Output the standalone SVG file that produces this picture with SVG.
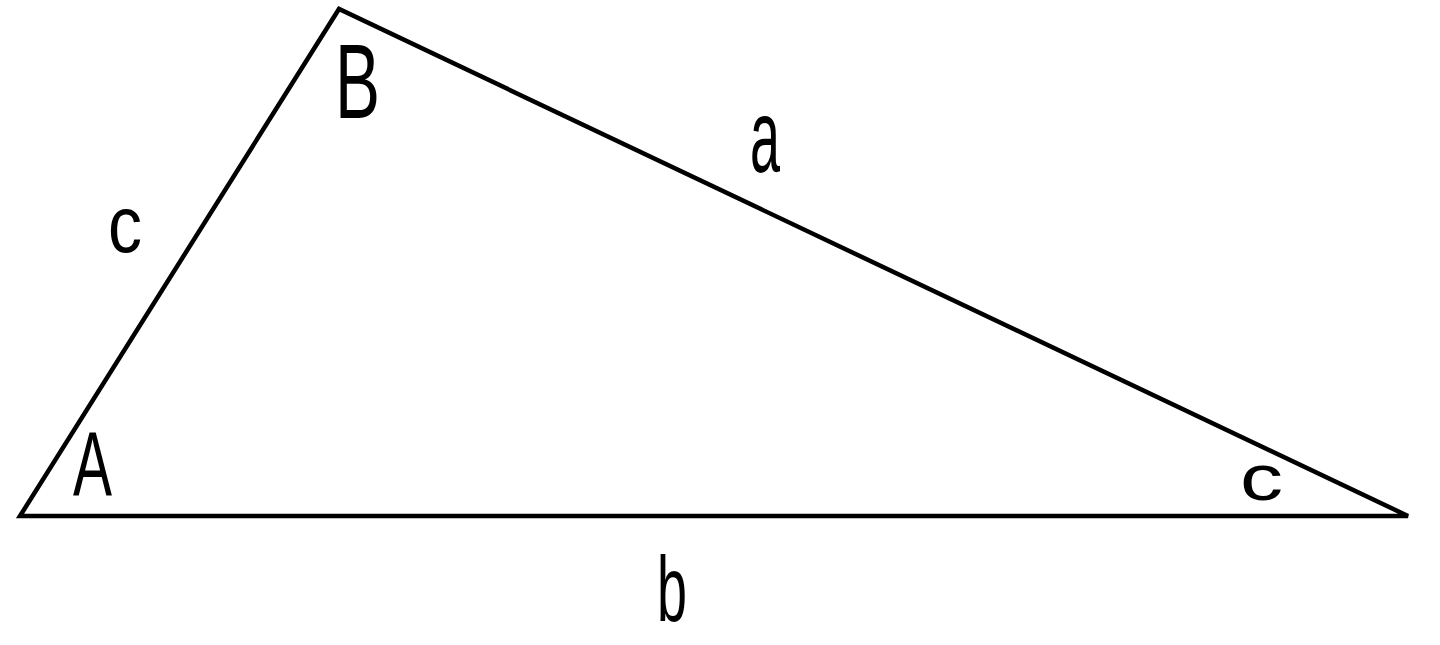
<svg xmlns="http://www.w3.org/2000/svg" width="1440" height="645" viewBox="0 0 1440 645">
<style>
.edge{fill:none;stroke:#000;stroke-width:4.5;stroke-linejoin:miter}
.lbl{font-family:"Liberation Sans","DejaVu Sans",sans-serif;fill:#000}
</style>
<rect width="1440" height="645" fill="#fff"/>
<g id="connectors">
<polygon class="edge" points="20,516 339,9 1408,516"/>
</g>
<g id="vertex-B"><text class="lbl" x="335" y="118" font-size="106" textLength="45" lengthAdjust="spacingAndGlyphs">B</text></g>
<g id="vertex-A"><text class="lbl" x="73" y="495" font-size="91" textLength="39" lengthAdjust="spacingAndGlyphs">A</text></g>
<g id="vertex-C"><text class="lbl" x="1240" y="500" font-size="64" textLength="43" lengthAdjust="spacingAndGlyphs">c</text></g>
<g id="side-a"><text class="lbl" x="750" y="172" font-size="104" textLength="30" lengthAdjust="spacingAndGlyphs">a</text></g>
<g id="side-b"><text class="lbl" x="657" y="621" font-size="92" textLength="30" lengthAdjust="spacingAndGlyphs">b</text></g>
<g id="side-c"><text class="lbl" x="108" y="252" font-size="80" textLength="34" lengthAdjust="spacingAndGlyphs">c</text></g>
</svg>
